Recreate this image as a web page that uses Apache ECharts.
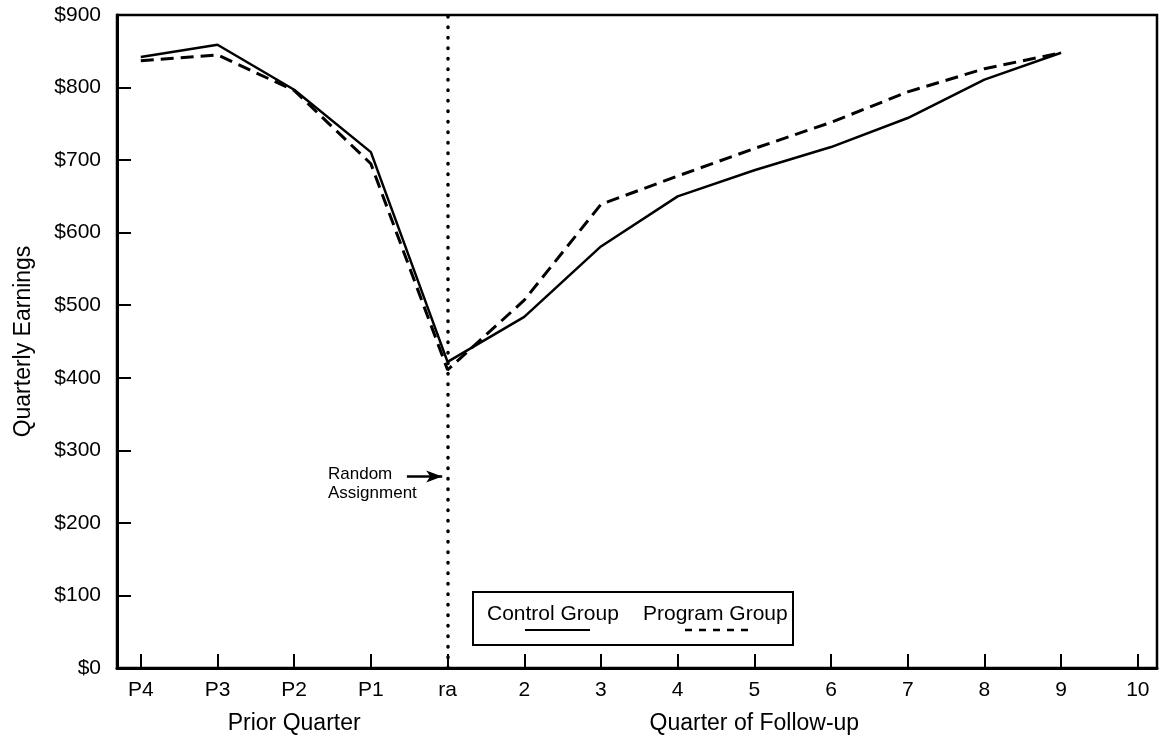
<!DOCTYPE html>
<html><head><meta charset="utf-8">
<script src="https://cdn.jsdelivr.net/npm/echarts@6/dist/echarts.min.js"></script>
<style>html,body{margin:0;padding:0;background:#fff}#c{width:1163px;height:742px}</style>
</head><body><div id="c"></div>
<script>
// ---- data ----
const quarterLabels = ['P4','P3','P2','P1','ra','2','3','4','5','6','7','8','9','10'];
const controlGroup = [842, 859, 797, 711, 422, 484, 581, 650, 686, 718, 758, 811, 848];
const programGroup = [837, 845, 796, 695, 411, 507, 639, 678, 716, 752, 794, 826, 848];
const yTickValues = [0, 100, 200, 300, 400, 500, 600, 700, 800, 900];
const seriesNames = ['Control Group', 'Program Group'];
const axisNames = { y: 'Quarterly Earnings', prior: 'Prior Quarter', followUp: 'Quarter of Follow-up' };
const randomAssignmentIndex = 4;
const randomAssignmentText = 'Random\nAssignment';
const arrowLevel = 264;
const arrowFrom = 3.47, arrowTo = 3.93;
const priorNameAt = 2, followNameAt = 8;

const FONT = "'Liberation Sans', Arial, Helvetica, sans-serif";
const idx = quarterLabels.map((_, i) => i);
const pairs = arr => arr.map((v, i) => [i, v]);

const chart = echarts.init(document.getElementById('c'), null, { renderer: 'canvas' });
chart.setOption({
  animation: false,
  backgroundColor: '#fff',
  textStyle: { fontFamily: FONT, color: '#000' },
  grid: { left: 117, right: 6, top: 15, bottom: 74, show: true, borderColor: '#000', borderWidth: 2.5, backgroundColor: 'transparent' },
  xAxis: {
    type: 'value', min: -0.31, max: 13.25,
    axisLine: { show: true, onZero: false, lineStyle: { color: '#000', width: 3 } },
    axisTick: { show: true, inside: true, length: 14, lineStyle: { color: '#000', width: 2 }, customValues: idx },
    axisLabel: { customValues: idx, formatter: v => quarterLabels[v] ?? '', color: '#000', fontSize: 21, fontFamily: FONT, margin: 12 },
    splitLine: { show: false }
  },
  yAxis: {
    type: 'value', min: 0, max: 900, interval: 100,
    name: axisNames.y, nameLocation: 'middle', nameGap: 82,
    nameTextStyle: { fontSize: 23, fontFamily: FONT, color: '#000' },
    axisLine: { show: true, onZero: false, lineStyle: { color: '#000', width: 3 } },
    axisTick: { show: true, inside: true, length: 14, lineStyle: { color: '#000', width: 2 } },
    axisLabel: { formatter: v => yTickValues.includes(v) ? '$' + v : '', color: '#000', fontSize: 21, fontFamily: FONT, margin: 16 },
    splitLine: { show: false }
  },
  series: [
    {
      name: seriesNames[0], type: 'line', data: pairs(controlGroup), showSymbol: false,
      lineStyle: { color: '#000', width: 2.5 },
      markLine: {
        silent: true, animation: false, label: { show: false },
        data: [
          [{ coord: [randomAssignmentIndex, 0], symbol: 'none' }, { coord: [randomAssignmentIndex, 900], symbol: 'none',
            lineStyle: { color: '#000', width: 3.5, type: [0.5, 10], cap: 'round' } }],
          [{ coord: [arrowFrom, arrowLevel], symbol: 'none' }, { coord: [arrowTo, arrowLevel], symbol: 'arrow', symbolSize: [9, 16],
            lineStyle: { color: '#000', width: 2.5, type: 'solid' } }]
        ]
      }
    },
    {
      name: seriesNames[1], type: 'line', data: pairs(programGroup), showSymbol: false,
      lineStyle: { color: '#000', width: 3, type: [13, 7] }
    }
  ]
});

const px = (i) => chart.convertToPixel({ xAxisIndex: 0 }, i);
chart.setOption({
  graphic: [
    { type: 'text', x: px(priorNameAt), y: 724, style: { text: axisNames.prior, font: '23px ' + FONT, fill: '#000', textAlign: 'center', textVerticalAlign: 'middle' } },
    { type: 'text', x: px(followNameAt), y: 724, style: { text: axisNames.followUp, font: '23px ' + FONT, fill: '#000', textAlign: 'center', textVerticalAlign: 'middle' } },
    { type: 'text', x: 328, y: 465, style: { text: randomAssignmentText, font: '17px ' + FONT, fill: '#000', lineHeight: 19, textAlign: 'left', textVerticalAlign: 'top' } },
    { type: 'rect', shape: { x: 473, y: 592, width: 320, height: 53 }, style: { stroke: '#000', lineWidth: 2, fill: '#fff' } },
    { type: 'text', x: 487, y: 614, style: { text: seriesNames[0], font: '21px ' + FONT, fill: '#000', textVerticalAlign: 'middle' } },
    { type: 'text', x: 643, y: 614, style: { text: seriesNames[1], font: '21px ' + FONT, fill: '#000', textVerticalAlign: 'middle' } },
    { type: 'line', shape: { x1: 525, y1: 630, x2: 590, y2: 630 }, style: { stroke: '#000', lineWidth: 2 } },
    { type: 'line', shape: { x1: 685, y1: 630, x2: 750, y2: 630 }, style: { stroke: '#000', lineWidth: 2.5, lineDash: [7, 7] } }
  ]
});
</script></body></html>
